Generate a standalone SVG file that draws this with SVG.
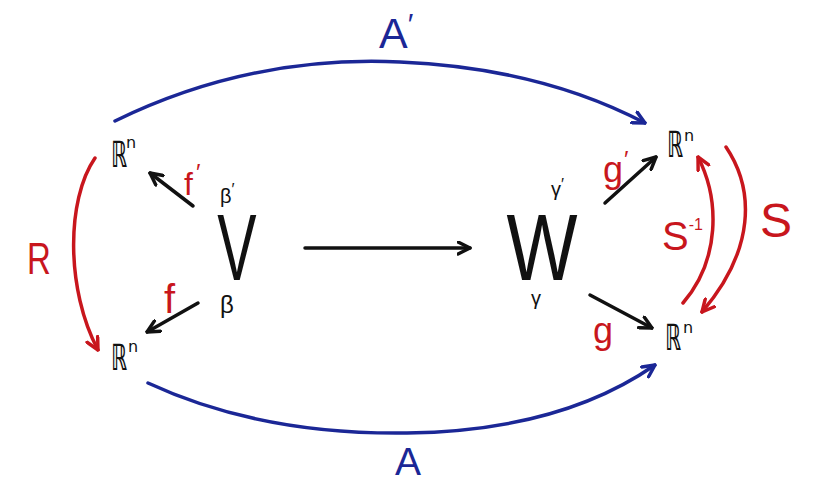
<svg xmlns="http://www.w3.org/2000/svg" width="820" height="485" viewBox="0 0 820 485">
<style>
text{font-family:"Liberation Sans","DejaVu Sans",sans-serif}
.k{fill:#111111}
.r{fill:#c8161d}
.b{fill:#1b2796}
.bb{font-family:"DejaVu Sans","Liberation Sans",sans-serif;font-size:36px;font-weight:bold}
.sup{font-family:"DejaVu Sans",sans-serif;font-size:16px}
.ln{fill:none;stroke-width:3.5;stroke-linecap:round;stroke-linejoin:round}
.lk{stroke:#111111}
.lr{stroke:#c8161d}
.lb{stroke:#1b2796}
</style>
<defs>
<marker id="ak" viewBox="0 0 10 10" refX="9" refY="5" markerWidth="15" markerHeight="15" markerUnits="userSpaceOnUse" orient="auto">
<path d="M1,1 L9,5 L1,9" fill="none" stroke="#111111" stroke-width="2.3" stroke-linecap="round" stroke-linejoin="round"/>
</marker>
<marker id="ar" viewBox="0 0 10 10" refX="9" refY="5" markerWidth="15" markerHeight="15" markerUnits="userSpaceOnUse" orient="auto">
<path d="M1,1 L9,5 L1,9" fill="none" stroke="#c8161d" stroke-width="2.3" stroke-linecap="round" stroke-linejoin="round"/>
</marker>
<marker id="ab" viewBox="0 0 10 10" refX="9" refY="5" markerWidth="15" markerHeight="15" markerUnits="userSpaceOnUse" orient="auto">
<path d="M1,1 L9,5 L1,9" fill="none" stroke="#1b2796" stroke-width="2.3" stroke-linecap="round" stroke-linejoin="round"/>
</marker>
</defs>

<g id="node-V">
<text class="k" font-size="95" text-anchor="middle" transform="translate(237,280) scale(0.62,1)">V</text>
<text class="k" x="220" y="203" font-size="20">β<tspan font-size="16" dy="-8">′</tspan></text>
<text class="k" x="220" y="313" font-size="24">β</text>
</g>

<g id="node-W">
<text class="k" font-size="94" text-anchor="middle" transform="translate(542,280) scale(0.8,1)">W</text>
<text class="k" x="551" y="196" font-size="20">γ<tspan font-size="16" dy="-6">′</tspan></text>
<text class="k" x="531" y="305" font-size="20">γ</text>
</g>

<g id="node-Rn-top-left">
<text class="k bb" transform="translate(111,167) scale(0.55,1)">ℝ</text>
<text class="k sup" x="126" y="148">n</text>
</g>

<g id="node-Rn-bottom-left">
<text class="k bb" transform="translate(111,370) scale(0.55,1)">ℝ</text>
<text class="k sup" x="128" y="352">n</text>
</g>

<g id="node-Rn-top-right">
<text class="k bb" transform="translate(667,157) scale(0.55,1)">ℝ</text>
<text class="k sup" x="684" y="141">n</text>
</g>

<g id="node-Rn-bottom-right">
<text class="k bb" transform="translate(665,350) scale(0.55,1)">ℝ</text>
<text class="k sup" x="683" y="333">n</text>
</g>

<g id="connectors">
<line class="ln lk" x1="305" y1="248" x2="470" y2="248" marker-end="url(#ak)"/>
<line class="ln lk" x1="193" y1="206" x2="150" y2="173" marker-end="url(#ak)"/>
<line class="ln lk" x1="198" y1="303" x2="147" y2="332" marker-end="url(#ak)"/>
<line class="ln lk" x1="605" y1="203" x2="656" y2="157" marker-end="url(#ak)"/>
<line class="ln lk" x1="590" y1="295" x2="652" y2="328" marker-end="url(#ak)"/>
<path class="ln lr" d="M95,158 C66,200 66,290 98,350" marker-end="url(#ar)"/>
<path class="ln lr" d="M683,303 C720,260 720,200 698,157" marker-end="url(#ar)"/>
<path class="ln lr" d="M726,147 C755,190 755,250 702,312" marker-end="url(#ar)"/>
<path class="ln lb" d="M115,121 Q250,55 400,62 Q540,68 645,123" marker-end="url(#ab)"/>
<path class="ln lb" d="M148,383 Q260,435 407,433 Q560,431 655,365" marker-end="url(#ab)"/>
</g>

<g id="edge-labels">
<text class="r" x="184" y="195" font-size="32">f<tspan font-size="24" dx="3" dy="-14">′</tspan></text>
<text class="r" x="164" y="313" font-size="40">f</text>
<text class="r" x="603" y="182" font-size="36">g<tspan font-size="24" dx="1" dy="-14">′</tspan></text>
<text class="r" x="593" y="343" font-size="36">g</text>
<text class="r" font-size="44" transform="translate(27,274) scale(0.75,1)">R</text>
<text class="r" x="662" y="250" font-size="40">S<tspan font-size="16" dy="-20">-1</tspan></text>
<text class="r" x="760" y="237" font-size="48">S</text>
<text class="b" x="379" y="48" font-size="43">A<tspan font-size="30" dy="-14">′</tspan></text>
<text class="b" x="395" y="475" font-size="39">A</text>
</g>
</svg>
